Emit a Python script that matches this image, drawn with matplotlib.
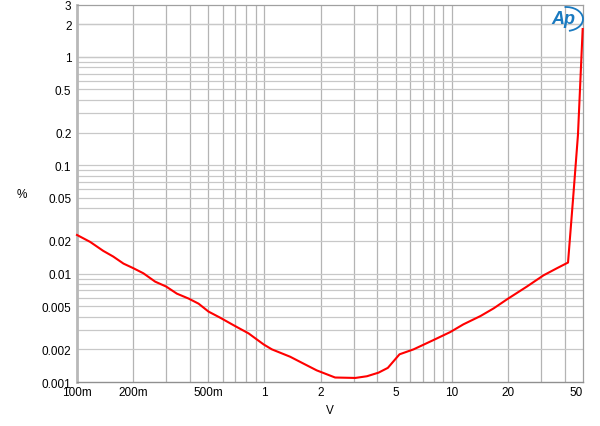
import matplotlib
matplotlib.use("Agg")
import matplotlib.pyplot as plt
from matplotlib.ticker import FixedLocator, NullFormatter
from matplotlib.patches import Arc

plt.rcParams['font.family'] = ['Liberation Sans', 'DejaVu Sans']

volts = [0.1, 0.1175, 0.138, 0.156, 0.177, 0.2, 0.226, 0.261, 0.299, 0.341, 0.394,
         0.445, 0.503, 0.58, 0.684, 0.822, 0.99, 1.095, 1.371, 1.6, 1.9, 2.38, 3.05,
         3.52, 4.06, 4.55, 5.25, 6.24, 7.98, 9.8, 11.5, 14.2, 16.7, 19.7, 25.1, 30.8,
         36.3, 41.6, 44.3, 47.0, 49.8]
thd = [0.0227, 0.0196, 0.0162, 0.01436, 0.01236, 0.0112, 0.01006, 0.00843, 0.00759,
       0.00653, 0.00588, 0.00528, 0.00446, 0.00392, 0.00334, 0.00281, 0.00222, 0.0020,
       0.00171, 0.00149, 0.00128, 0.0011, 0.00109, 0.00113, 0.00122, 0.00135, 0.0018,
       0.0020, 0.00244, 0.00289, 0.0034, 0.00406, 0.00478, 0.0058, 0.00759, 0.00964,
       0.0112, 0.01264, 0.05, 0.19, 1.8]

xticks = [0.1, 0.2, 0.5, 1, 2, 5, 10, 20, 50]
xlabels = ["100m", "200m", "500m", "1", "2", "5", "10", "20", "50"]
yticks = [0.001, 0.002, 0.005, 0.01, 0.02, 0.05, 0.1, 0.2, 0.5, 1, 2, 3]
ylabels = ["0.001", "0.002", "0.005", "0.01", "0.02", "0.05", "0.1", "0.2", "0.5", "1", "2", "3"]

fig = plt.figure(figsize=(6.0, 4.27), dpi=100)
ax = fig.add_axes([77/600, 1 - 383/427, (583-77)/600, (383-6)/427])
ax.set_xscale('log')
ax.set_yscale('log')
ax.set_xlim(0.1, 50)
ax.set_ylim(0.001, 3)

# grid at every 1..9 multiple
xgrid = [m * 10**e for e in range(-1, 2) for m in range(1, 10)]
xgrid = [v for v in xgrid if 0.1 < v < 50]
ygrid = [m * 10**e for e in range(-3, 1) for m in range(1, 10)] + [1, 2]
ygrid = [v for v in ygrid if 0.001 < v < 3]
for v in xgrid:
    ax.axvline(v, color='#b4b4b4', lw=0.9, zorder=1)
for v in ygrid:
    ax.axhline(v, color='#c8c8c8', lw=0.9, zorder=1)

ax.plot(volts, thd, color='#ff0000', lw=1.5, zorder=3, clip_on=False)

ax.xaxis.set_major_locator(FixedLocator(xticks))
ax.set_xticklabels(xlabels)
ax.get_xticklabels()[-1].set_horizontalalignment('right')
ax.xaxis.set_minor_formatter(NullFormatter())
ax.yaxis.set_major_locator(FixedLocator(yticks))
ax.set_yticklabels(ylabels)
ax.yaxis.set_minor_formatter(NullFormatter())
ax.tick_params(which='both', length=0, labelsize=8.5, colors='#000000', pad=4)
ax.tick_params(axis='x', pad=3)

for s in ['top', 'right']:
    ax.spines[s].set_color('#a0a0a0')
    ax.spines[s].set_linewidth(0.9)
ax.spines['left'].set_color('#b8b8b8')
ax.spines['left'].set_linewidth(2.0)
ax.spines['bottom'].set_color('#909090')
ax.spines['bottom'].set_linewidth(1.0)

fig.text(22/600, 1 - 195/427, "%", fontsize=8.5, ha='center', va='center')
fig.text(330/600, 1 - 411/427, "V", fontsize=8.5, ha='center', va='center')

# Ap logo
fig.text(563/600, 1 - 20/427, "Ap", fontsize=13, color='#1a7ac0', style='italic',
         fontweight='bold', ha='center', va='center')
fig.patches.append(Arc((566/600, 1 - 20/427), 34/600, 24/427, theta1=-80, theta2=95,
                       transform=fig.transFigure, color='#1a7ac0', lw=1.3))

fig.savefig("out.png", dpi=100)
